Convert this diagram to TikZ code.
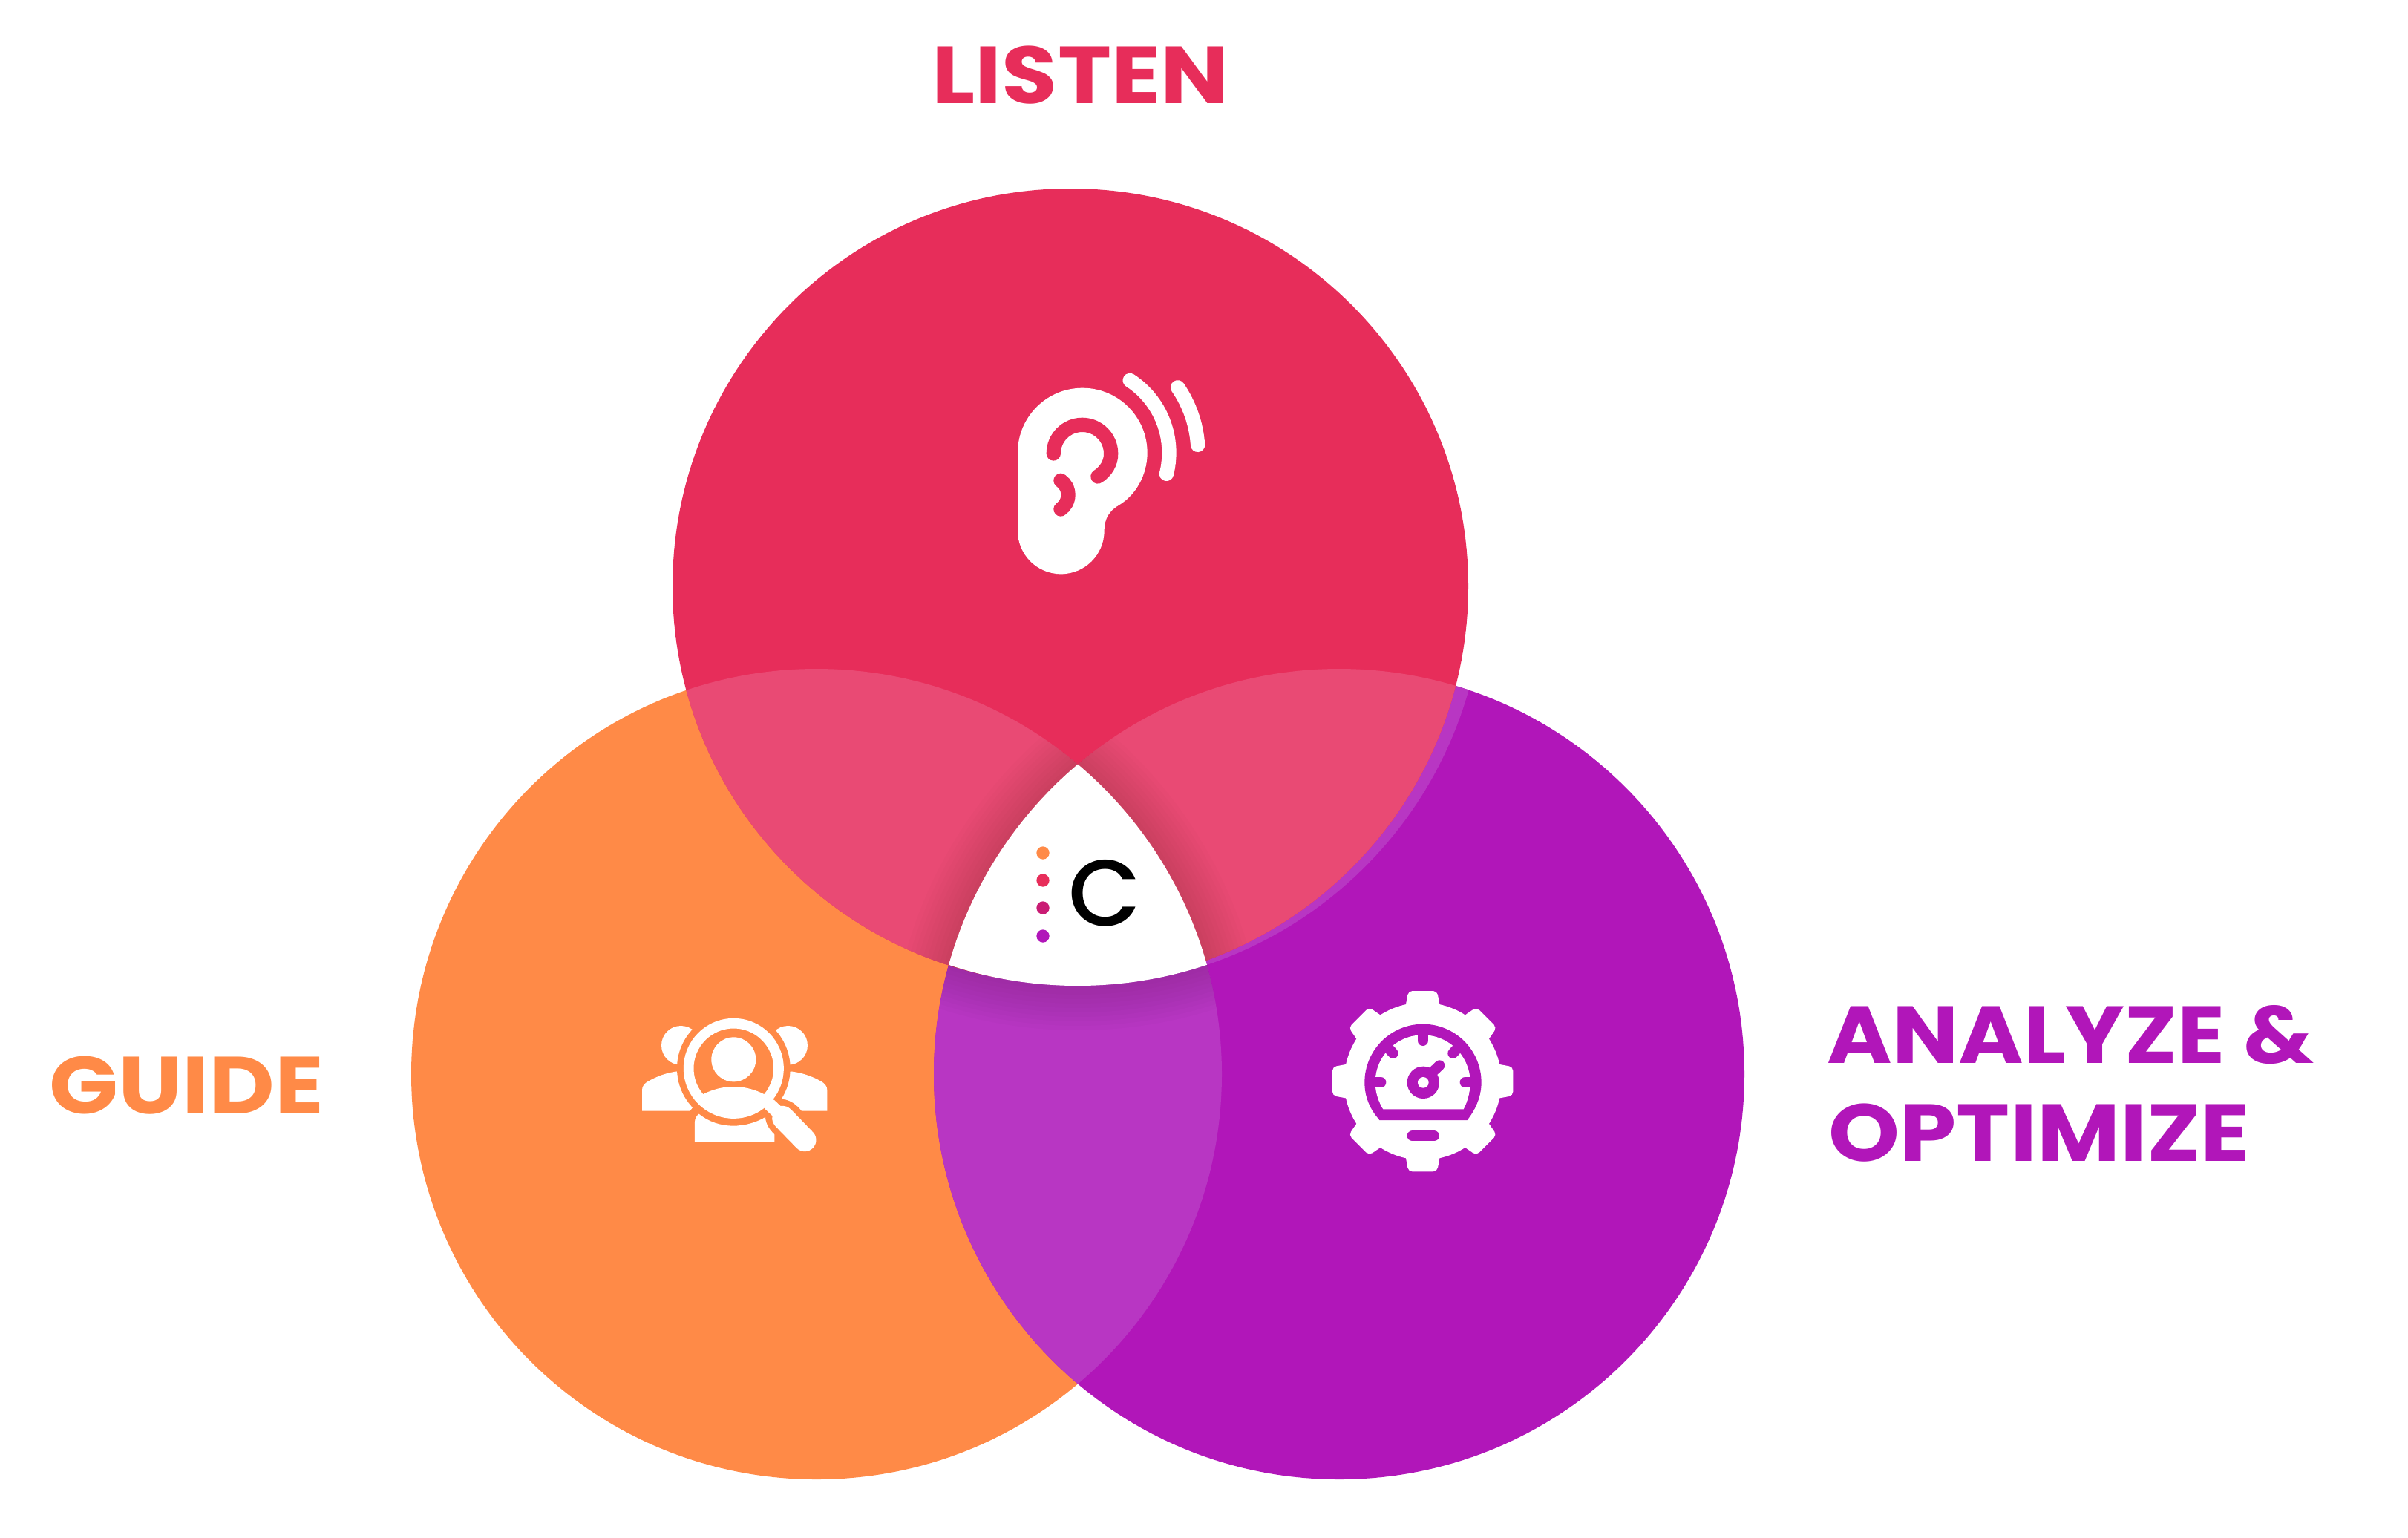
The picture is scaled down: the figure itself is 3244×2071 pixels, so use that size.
\documentclass[tikz,border=0pt]{standalone}
\usepackage{fontspec}
\setmainfont{Poppins}
\newfontfamily\logofont{Poppins Medium}
\newfontfamily\headfont{Poppins Bold}[FakeStretch=1.12]
\newfontfamily\headfontb{Poppins Bold}[FakeStretch=1.09]
\definecolor{listenred}{HTML}{E72D5A}
\definecolor{guideorange}{HTML}{FF8A47}
\definecolor{optpurple}{HTML}{B116B9}
\definecolor{lenspink}{HTML}{E94A74}
\definecolor{lensviolet}{HTML}{B836C3}
\definecolor{dotmagenta}{HTML}{C91C74}
\tikzset{
  heading/.style={anchor=base west,inner sep=0pt,font=\headfont\fontsize{31}{31}\selectfont},
  glow/.style={black,opacity=0.012},
  earcut/.style={listenred,line width=0.193cm,line cap=round},
  earwave/.style={white,line width=0.193cm,line cap=round},
  gaugeline/.style={optpurple,line width=0.14cm,line cap=round},
  logodot/.style={circle,inner sep=0pt,minimum size=0.173cm},
}
\newcommand{\glowband}[3]{%
  \begin{scope}
    \clip #1;
    \clip #2;
    \foreach \w in {12,24,...,120} {
      \draw[glow,line width=\w*0.01cm] #3;
    }
  \end{scope}}
\begin{document}
\begin{tikzpicture}[x=0.01cm,y=-0.01cm]
  \def\ro{546};
  \def\rl{536};
  \def\rs{547};
  \def\discO{(1100,1447) circle (\ro)};
  \def\discP{(1804,1447) circle (\ro)};
  \def\discR{(1442,790) circle (\rl)};
  \def\discS{(1452,781) circle (\rs)};

  \path[use as bounding box,fill=white] (0,0) rectangle (3244,2071);

  \fill[guideorange] \discO;
  \fill[optpurple] \discP;
  \begin{scope} % sliver
    \clip \discP;
    \fill[lensviolet] \discS;
  \end{scope}
  \begin{scope} % lower lens
    \clip \discO;
    \fill[lensviolet] \discP;
  \end{scope}
  \fill[listenred] \discR;
  \begin{scope}
    \clip \discR;
    \fill[lenspink] \discO;
    \fill[lenspink] \discP;
  \end{scope}
  \glowband{\discO}{\discR}{\discP}
  \glowband{\discP}{\discR}{\discO}
  \glowband{\discO}{\discP}{\discS}
  \begin{scope} % centre
    \clip \discO;
    \clip \discP;
    \fill[white] \discS;
  \end{scope}

  % ear
  \begin{scope}[shift={(1300,460)},scale=0.3333]
    \fill[white] (213,450) arc (180:360:262) .. controls (737,540) and (690,620) .. (625,660) .. controls (585,682) and (563,715) .. (563,765) arc (0:180:175) -- cycle;
    \draw[earcut] (358,453) arc (180:360:116) .. controls (591,490) and (570,525) .. (537,546);
    \draw[earcut] (387,562) .. controls (405,575) and (417,595) .. (417,620) .. controls (417,645) and (405,665) .. (387,678);
    \draw[earwave] (475,450) ++(303.2:350) arc (303.2:374.1:350);
    \draw[earwave] (475,450) ++(325.5:467) arc (325.5:356.1:467);
  \end{scope}

  % people and magnifier
  \begin{scope}[shift={(830,1340)},scale=0.3333]
    \fill[white] (262,205) circle (79);
    \fill[white] (695,205) circle (79);
    \fill[white] (105,470) -- (105,385) .. controls (105,370) and (115,358) .. (130,350) .. controls (165,330) and (205,315) .. (248,310) -- (320,400) -- (308,458) -- (298,470) -- cycle;
    \fill[white] (853,470) -- (853,385) .. controls (853,370) and (843,358) .. (828,350) .. controls (793,330) and (750,315) .. (705,310) -- (640,350) -- (672,422) .. controls (705,425) and (730,445) .. (750,470) -- cycle;
    \fill[guideorange] (475,298) circle (229);
    \draw[white,line width=0.137cm] (475,298) circle (182);
    \fill[white] (475,262) circle (90);
    \fill[white] (350,403) .. controls (390,383) and (430,372) .. (475,372) .. controls (520,372) and (560,383) .. (600,403) arc (40:140:163) -- cycle;
    \fill[white] (318,595) -- (318,515) .. controls (318,500) and (325,490) .. (335,482) .. controls (375,515) and (425,530) .. (475,530) .. controls (520,530) and (565,517) .. (603,495) .. controls (605,520) and (615,540) .. (640,565) -- (640,595) -- cycle;
    \fill[white] (610,420) -- (638,425) -- (665,450) .. controls (680,448) and (695,452) .. (708,465) -- (795,555) arc (-45:135:46) -- (650,538) .. controls (632,520) and (628,505) .. (632,490) -- (600,460) -- cycle;
  \end{scope}

  % gear and gauge
  \begin{scope}[shift={(1760,1310)},scale=0.3333]
    \fill[white] (470,440) circle (318);
    \begin{scope}[shift={(470,440)}]
      \foreach \a in {0,45,...,315} {
        \fill[white,rounded corners=1.5pt,rotate=\a] (-72,-290) -- (-58,-365) -- (58,-365) -- (72,-290) -- cycle;
      }
    \end{scope}
    \fill[optpurple] (235,445) arc (180:360:236) .. controls (707,500) and (685,550) .. (655,590) -- (650,597) -- (295,597) -- (290,590) .. controls (255,550) and (235,500) .. (235,445) -- cycle;
    \fill[white] (278,445) arc (180:360:192) .. controls (662,485) and (650,525) .. (635,553) -- (310,553) .. controls (292,525) and (278,485) .. (278,445) -- cycle;
    \draw[gaugeline] (470,250) -- (470,276);
    \draw[gaugeline] (330,305) -- (350,327);
    \draw[gaugeline] (612,305) -- (592,327);
    \draw[gaugeline] (280,445) -- (301,445);
    \draw[gaugeline] (662,445) -- (641,445);
    \draw[gaugeline] (428,661) -- (516,661);
    \draw[gaugeline] (500,412) -- (538,376);
    \fill[optpurple] (472,445) circle (65);
    \fill[white] (472,445) circle (22);
  \end{scope}

  % logo
  \node[logodot,fill=guideorange] (dota) at (1405,1149) {};
  \node[logodot,fill=listenred] (dotb) at (1405,1186) {};
  \node[logodot,fill=dotmagenta] (dotc) at (1405,1223) {};
  \node[logodot,fill=optpurple] (dotd) at (1405,1261) {};
  \node[inner sep=0pt,font=\logofont\fontsize{36}{36}\selectfont] (logoc) at (1488,1203) {C};

  \node[heading,text=listenred] (listen) at (1255,139) {LISTEN};
  \node[heading,text=guideorange] (guide) at (66,1500) {GUIDE};
  \node[heading,text=optpurple,font=\headfontb\fontsize{31}{31}\selectfont] (analyze) at (2461,1432) {ANALYZE \&};
  \node[heading,text=optpurple] (optimize) at (2463,1564) {OPTIMIZE};
\end{tikzpicture}
\end{document}
